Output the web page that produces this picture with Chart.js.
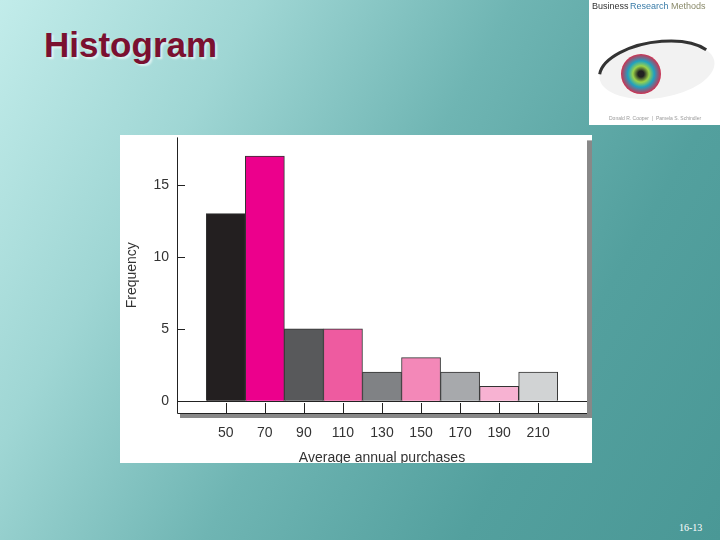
<!DOCTYPE html>
<html><head><meta charset="utf-8">
<script src="https://cdn.jsdelivr.net/npm/chart.js@4"></script>
<style>
html,body{margin:0;padding:0;width:720px;height:540px;overflow:hidden}
body{background:linear-gradient(120deg,#c2ecea 0%,#9fd6d4 25%,#6fb5b3 50%,#53a09e 75%,#4a9896 100%);position:relative;font-family:"Liberation Sans",Arial,sans-serif}
#title{position:absolute;left:44px;top:25px;font-size:35px;font-weight:bold;color:#7b1030;text-shadow:2px 2px 2px rgba(255,255,255,0.6)}
#foot{position:absolute;left:679px;top:522px;font-family:"Liberation Serif",serif;font-size:10px;color:#fff}
#book{position:absolute;left:589px;top:0;width:131px;height:125px;background:#fff}
#wrap{position:absolute;left:120px;top:135px;width:472px;height:328px;background:#fff}
#c{position:absolute;left:120px;top:129px}
</style></head><body>
<div id="title">Histogram</div>
<canvas id="book" width="131" height="125"></canvas>
<div id="wrap"></div>
<canvas id="c" width="472" height="334"></canvas>
<div id="foot">16-13</div>
<script>
const midpoints=[50,70,90,110,130,150,170,190,210];
const frequency=[13,17,5,5,2,3,2,1,2];
const barColors=['#231f20','#ec008c','#58595b','#ee5ba0','#808285','#f388b8','#a7a9ac','#f7b2d2','#d1d3d4'];
const yTicks=[0,5,10,15];

(function(){const b=document.getElementById('book').getContext('2d');
b.fillStyle='#fff';b.fillRect(0,0,131,125);
b.font='9px "Liberation Sans",Arial';b.fillStyle='#333';b.fillText('Business',3,9);
b.fillStyle='#3a7ca8';b.fillText('Research',41,9);b.fillStyle='#8a8a6a';b.fillText('Methods',82,9);
b.save();b.beginPath();b.ellipse(68,70,58,28,-0.15,0,Math.PI*2);b.fillStyle='#f2f2f2';b.fill();b.restore();
b.strokeStyle='#333';b.lineWidth=3;b.beginPath();b.ellipse(68,70,58,28,-0.15,Math.PI*1.05,Math.PI*1.85);b.stroke();
const g=b.createRadialGradient(52,74,3,52,74,20);g.addColorStop(0,'#222');g.addColorStop(0.3,'#9bd34a');g.addColorStop(0.6,'#1fa0c0');g.addColorStop(1,'#d03050');
b.beginPath();b.arc(52,74,20,0,Math.PI*2);b.fillStyle=g;b.fill();
b.font='5px "Liberation Sans",Arial';b.fillStyle='#999';b.fillText('Donald R. Cooper  |  Pamela S. Schindler',20,120);})();

const decor={id:'decor',
 afterDatasetsDraw(ch){const c=ch.ctx,a=ch.chartArea,x=ch.scales.x,y=ch.scales.y;c.save();
  c.fillStyle='#888';c.fillRect(a.right,a.top+3,5,a.bottom-a.top+1);c.fillRect(a.left+3,a.bottom,a.right-a.left+2,5);
  c.strokeStyle='#222';c.lineWidth=1;
  c.beginPath();c.moveTo(a.left+0.5,a.top);c.lineTo(a.left+0.5,a.bottom+0.5);c.lineTo(a.right,a.bottom+0.5);c.stroke();
  const y0=Math.round(y.getPixelForValue(0))+0.5;
  c.beginPath();c.moveTo(a.left,y0);c.lineTo(a.right,y0);c.stroke();
  midpoints.forEach(m=>{const px=Math.round(x.getPixelForValue(m))+0.5;c.beginPath();c.moveTo(px,a.bottom);c.lineTo(px,a.bottom-10);c.stroke();});
  yTicks.forEach(t=>{const py=Math.round(y.getPixelForValue(t))+0.5;c.beginPath();c.moveTo(a.left,py);c.lineTo(a.left+8,py);c.stroke();});
  c.restore();}};

new Chart(document.getElementById('c'),{
 type:'bar',
 data:{datasets:[{data:midpoints.map((m,i)=>({x:m,y:frequency[i]})),backgroundColor:barColors,borderColor:'#333',borderWidth:1,barPercentage:1,categoryPercentage:1,grouped:false}]},
 options:{responsive:false,animation:false,events:[],
  layout:{padding:{top:2,right:5,left:0,bottom:0}},
  plugins:{legend:{display:false},tooltip:{enabled:false}},
  scales:{
   x:{type:'linear',min:25,max:235,offset:false,grid:{display:false},border:{display:false},
      afterBuildTicks(s){s.ticks=midpoints.map(v=>({value:v}));},
      afterFit(s){s.height=50;},
      ticks:{autoSkip:false,maxRotation:0,padding:4,color:'#333',font:{family:'"Liberation Sans",Arial',size:14}},
      title:{display:true,text:'Average annual purchases',color:'#333',padding:{top:16,bottom:-4},font:{family:'"Liberation Sans",Arial',size:14}}},
   y:{min:-0.85,max:18.3,grid:{display:false},border:{display:false},
      afterBuildTicks(s){s.ticks=yTicks.map(v=>({value:v}));},
      afterFit(s){s.width=57;},
      ticks:{padding:0,color:'#333',font:{family:'"Liberation Sans",Arial',size:14}},
      title:{display:true,text:'Frequency',color:'#333',padding:{bottom:2},font:{family:'"Liberation Sans",Arial',size:14}}}
  }},
 plugins:[decor]});
</script></body></html>
